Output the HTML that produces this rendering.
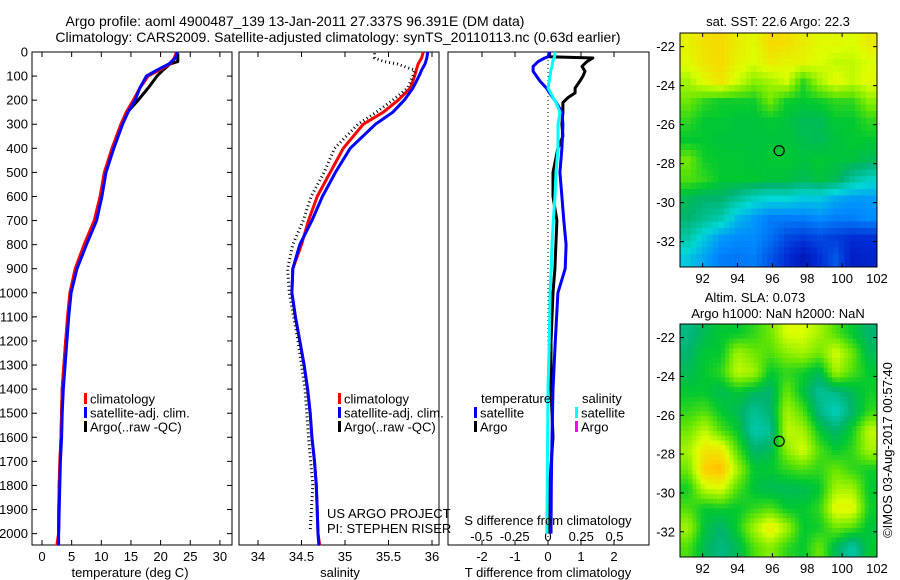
<!DOCTYPE html>
<html><head><meta charset="utf-8"><style>
html,body{margin:0;padding:0;background:#fff;}
svg{display:block;font-family:"Liberation Sans",sans-serif;}
text{fill:#000;}
</style></head><body>
<svg id="fig" width="900" height="580" viewBox="0 0 900 580" xmlns="http://www.w3.org/2000/svg">
<text x="295" y="26" font-size="14" text-anchor="middle">Argo profile: aoml 4900487_139 13-Jan-2011 27.337S 96.391E (DM data)</text>
<text x="338" y="42" font-size="14" text-anchor="middle">Climatology: CARS2009. Satellite-adjusted climatology: synTS_20110113.nc (0.63d earlier)</text>
<g id="layer"></g>
</svg>
<script>
// ---- shared depth levels ----
const depths = [0,25,50,75,100,150,200,250,300,400,500,600,700,800,900,1000,1100,1200,1300,1400,1500,1600,1700,1800,1900,2000,2050];
// temperature (deg C)
const tempClim = [22.7,22.3,21.6,19.8,17.9,16.5,15.4,14.2,13.3,11.8,10.5,9.8,8.8,7.1,5.6,4.7,4.3,4.0,3.7,3.4,3.3,3.2,3.0,2.9,2.8,2.8,2.5];
const tempSat  = [22.8,22.5,21.4,19.4,17.6,16.5,15.7,14.5,13.6,12.1,10.8,10.1,9.2,7.5,5.9,4.9,4.5,4.2,3.9,3.6,3.4,3.3,3.1,3.0,2.9,2.8,2.8];
const argoDepths = [5,25,40,50,75,100,150,200,250,300,400,500,600,700,800,900,1000,1200,1400,1600,1800,1990];
const tempArgo = [22.9,22.9,22.9,21.6,20.4,19.4,17.9,16.2,14.4,13.4,11.9,10.6,9.9,8.9,7.2,5.7,4.8,4.0,3.4,3.2,2.9,2.8];
// salinity
const salClim = [35.90,35.88,35.84,35.82,35.80,35.75,35.61,35.44,35.21,34.98,34.83,34.68,34.58,34.50,34.40,34.39,34.43,34.48,34.53,34.57,34.60,34.62,34.65,34.67,34.68,34.69,34.71];
const salSat  = [35.95,35.94,35.92,35.88,35.85,35.78,35.68,35.55,35.35,35.06,34.89,34.74,34.62,34.48,34.40,34.39,34.43,34.48,34.53,34.57,34.60,34.62,34.65,34.67,34.68,34.69,34.70];
const salArgo = [35.34,35.34,35.45,35.60,35.80,35.78,35.72,35.55,35.36,35.15,34.88,34.76,34.61,34.52,34.40,34.34,34.36,34.46,34.54,34.58,34.63,34.60];
// differences
const diffDepths = [0,20,25,40,60,80,100,120,150,170,190,210,250,300,350,400,500,600,700,800,900,1000,1200,1400,1600,1800,2000];
const dTsat  = [0.05,0.0,-0.1,-0.3,-0.45,-0.45,-0.35,-0.25,-0.05,0.05,0.15,0.25,0.42,0.45,0.44,0.42,0.36,0.42,0.48,0.55,0.52,0.3,0.22,0.15,0.12,0.1,0.09];
const dTargo = [0.05,0.05,1.36,1.18,1.03,1.12,1.06,0.97,0.82,0.82,0.6,0.45,0.45,0.42,0.45,0.3,0.15,0.15,0.27,0.24,0.21,0.15,0.09,0.09,0.15,0.05,0.03];
const dSsat  = [0.053,0.05,0.045,0.035,0.03,0.02,0.015,0.01,0.0,0.02,0.04,0.06,0.09,0.075,0.075,0.075,0.06,0.053,0.04,0.03,0.025,0.015,0.01,0.0,-0.003,-0.005,-0.008];
const tempTicks = [0,5,10,15,20,25,30];
const salTicks = [34,34.5,35,35.5,36];
const salTickLabels = ["34","34.5","35","35.5","36"];
const tdTicks = [-2,-1,0,1,2];
const sdTicks = [-0.5,-0.25,0,0.25,0.5];
const sdTickLabels = ["-0.5","-0.25","0","0.25","0.5"];
const depthTicks = [0,100,200,300,400,500,600,700,800,900,1000,1100,1200,1300,1400,1500,1600,1700,1800,1900,2000];
const lonTicks = [92,94,96,98,100,102];
const latTicks = [-22,-24,-26,-28,-30,-32];
const argoLon = [96.39];
const argoLat = [-27.337];
// map grids (colour index 0..1), rows north->south (1 deg), 12 columns 90.7..102
const sstGrid = [
[0.72,0.75,0.76,0.73,0.71,0.76,0.75,0.73,0.71,0.71,0.70,0.73],
[0.71,0.74,0.76,0.72,0.70,0.73,0.72,0.72,0.70,0.68,0.68,0.70],
[0.66,0.71,0.74,0.69,0.64,0.66,0.69,0.58,0.66,0.71,0.68,0.71],
[0.62,0.58,0.56,0.56,0.56,0.62,0.56,0.55,0.56,0.58,0.58,0.64],
[0.58,0.55,0.55,0.54,0.54,0.55,0.54,0.52,0.52,0.55,0.55,0.58],
[0.55,0.55,0.54,0.54,0.54,0.54,0.54,0.53,0.52,0.54,0.55,0.55],
[0.62,0.56,0.55,0.55,0.54,0.55,0.55,0.54,0.55,0.54,0.54,0.52],
[0.60,0.58,0.55,0.55,0.55,0.54,0.54,0.52,0.54,0.52,0.46,0.42],
[0.52,0.50,0.50,0.46,0.42,0.40,0.40,0.38,0.38,0.34,0.32,0.32],
[0.50,0.47,0.44,0.36,0.32,0.28,0.28,0.28,0.30,0.28,0.28,0.30],
[0.45,0.38,0.32,0.30,0.30,0.26,0.20,0.18,0.20,0.18,0.16,0.16],
[0.38,0.33,0.28,0.27,0.28,0.22,0.16,0.10,0.16,0.22,0.12,0.14]];
const slaGrid = [
[0.48,0.52,0.55,0.55,0.58,0.62,0.70,0.70,0.66,0.60,0.55,0.50],
[0.50,0.55,0.55,0.66,0.62,0.60,0.64,0.66,0.62,0.70,0.62,0.52],
[0.52,0.55,0.58,0.68,0.66,0.55,0.58,0.56,0.52,0.66,0.60,0.55],
[0.55,0.55,0.52,0.55,0.52,0.50,0.62,0.54,0.46,0.48,0.52,0.56],
[0.58,0.60,0.55,0.52,0.46,0.50,0.66,0.60,0.48,0.42,0.50,0.58],
[0.62,0.68,0.60,0.55,0.44,0.46,0.68,0.66,0.55,0.50,0.56,0.68],
[0.66,0.74,0.74,0.60,0.50,0.52,0.64,0.70,0.60,0.55,0.58,0.66],
[0.62,0.78,0.80,0.66,0.55,0.55,0.58,0.60,0.58,0.62,0.58,0.56],
[0.56,0.68,0.70,0.60,0.54,0.52,0.52,0.52,0.55,0.66,0.66,0.55],
[0.60,0.55,0.56,0.55,0.58,0.60,0.55,0.55,0.58,0.72,0.72,0.56],
[0.66,0.54,0.50,0.56,0.66,0.74,0.66,0.55,0.56,0.62,0.60,0.54],
[0.60,0.52,0.48,0.52,0.60,0.64,0.58,0.55,0.62,0.52,0.44,0.55]];

const NS="http://www.w3.org/2000/svg";
const layer=document.getElementById('layer');
function mk(tag,attrs,parent){const e=document.createElementNS(NS,tag);for(const k in attrs)e.setAttribute(k,attrs[k]);(parent||layer).appendChild(e);return e;}
function txt(s,x,y,size,anchor,parent){const t=mk('text',{x:x,y:y,'font-size':size,'text-anchor':anchor||'middle'},parent);t.textContent=s;return t;}

const PTOP=52, PBOT=545;
const yD = d => 52 + d*0.2408;
const xT = t => 42 + t*5.93;
const xS = s => 258 + (s-34)*87;
const xDT = v => 548 + v*33;
const xDS = v => 548 + v*133;

function panel(x0,x1,name){
  const r=mk('rect',{x:x0,y:PTOP,width:x1-x0,height:PBOT-PTOP,fill:'none',stroke:'#000','stroke-width':1});
  
  
}
panel(32,232,'temperature-panel');
panel(239,439,'salinity-panel');
panel(448,649,'difference-panel');

depthTicks.forEach(d=>{
  const y=yD(d);
  mk('line',{x1:32,x2:37,y1:y,y2:y,stroke:'#000'});
  mk('line',{x1:227,x2:232,y1:y,y2:y,stroke:'#000'});
  const t=txt(String(d),28,y+4.5,13,'end');
  
  
});
function xticks(vals,labels,fx,ly,name){
  vals.forEach((v,i)=>{
    const x=fx(v);
    mk('line',{x1:x,x2:x,y1:PTOP,y2:PTOP+5,stroke:'#000'});
    mk('line',{x1:x,x2:x,y1:PBOT-5,y2:PBOT,stroke:'#000'});
    const t=txt(labels[i],x,ly,13,'middle');
    
    
  });
}
xticks(tempTicks,tempTicks.map(String),xT,561,'temperature-tick-label');
xticks(salTicks,salTickLabels,xS,561,'salinity-tick-label');
xticks(tdTicks,tdTicks.map(String),xDT,561,'t-diff-tick-label');
sdTicks.forEach((v,i)=>{const t=txt(sdTickLabels[i],xDS(v),541,13,'middle');
  
  });

function line(xs,ds,fx,color,w,name,dash){
  const pts=xs.map((v,i)=>fx(v).toFixed(1)+','+yD(ds[i]).toFixed(1)).join(' ');
  const p=mk('polyline',{points:pts,fill:'none',stroke:color,'stroke-width':w,'stroke-linejoin':'round'});
  if(dash)p.setAttribute('stroke-dasharray',dash);
  
  
}
line(tempArgo,argoDepths,xT,'#000',3,'temp-argo-line');
line(tempClim,depths,xT,'#f00',3,'temp-clim-line');
line(tempSat,depths,xT,'#00f',3,'temp-sat-line');
line(salClim,depths,xS,'#f00',3,'sal-clim-line');
line(salSat,depths,xS,'#00f',3,'sal-sat-line');
line(salArgo,argoDepths,xS,'#000',3,'sal-argo-line','1 3');
mk('line',{x1:548,x2:548,y1:PTOP,y2:PBOT,stroke:'#000','stroke-dasharray':'1 3'});
line(dTargo,diffDepths,xDT,'#000',3,'tdiff-argo-line');
line(dTsat,diffDepths,xDT,'#00f',3,'tdiff-sat-line');
line(dSsat,diffDepths,xDS,'#0ff',3,'sdiff-sat-line');

function leg(x,y,color,label,name){
  mk('rect',{x:x,y:y-6,width:3,height:11,fill:color});
  const t=txt(label,x+6,y+4.5,13,'start');
  
  
}
leg(84,399,'#f00','climatology','legend-climatology');
leg(84,413,'#00f','satellite-adj. clim.','legend-satellite-adj');
leg(84,427,'#000','Argo(..raw -QC)','legend-argo');
leg(338,399,'#f00','climatology','legend-sal-climatology');
leg(338,413,'#00f','satellite-adj. clim.','legend-sal-satellite-adj');
leg(338,427,'#000','Argo(..raw -QC)','legend-sal-argo');
txt('temperature',481,403,13,'start');
txt('salinity',582,403,13,'start');
leg(474,413,'#00f','satellite','legend-t-satellite');
leg(474,427,'#000','Argo','legend-t-argo');
leg(575,413,'#0ff','satellite','legend-s-satellite');
leg(575,427,'#f0f','Argo','legend-s-argo');
txt('US ARGO PROJECT',327,518,13,'start');
txt('PI: STEPHEN RISER',327,533,13,'start');
txt('S difference from climatology',548,525,13,'middle');
txt('temperature (deg C)',130,577,13,'middle');
txt('salinity',340,577,13,'middle');
txt('T difference from climatology',548,577,13,'middle');

const stops=[[0,[0,0,140]],[0.15,[0,40,210]],[0.3,[0,140,255]],[0.4,[0,215,215]],[0.5,[0,180,110]],[0.55,[0,200,50]],[0.62,[110,232,0]],[0.7,[220,255,0]],[0.78,[255,205,0]],[0.86,[255,130,0]],[1,[200,0,0]]];
function cmap(v){for(let i=1;i<stops.length;i++){if(v<=stops[i][0]){const a=stops[i-1],b=stops[i];const f=(v-a[0])/(b[0]-a[0]);return 'rgb('+a[1].map((c,k)=>Math.round(c+(b[1][k]-c)*f)).join(',')+')';}}return 'rgb(200,0,0)';}
function sample(grid,r,c){
  const R=grid.length,C=grid[0].length;
  r=Math.max(0,Math.min(R-1,r));c=Math.max(0,Math.min(C-1,c));
  const r0=Math.floor(r),c0=Math.floor(c),r1=Math.min(R-1,r0+1),c1=Math.min(C-1,c0+1);
  const fr=r-r0,fc=c-c0;
  return grid[r0][c0]*(1-fr)*(1-fc)+grid[r0][c1]*(1-fr)*fc+grid[r1][c0]*fr*(1-fc)+grid[r1][c1]*fr*fc;
}

function map(grid,top,bot,name,sub){
  const x0=680,x1=877;
  const lonX = lon => 680 + (lon-90.7)*17.43;
  const latY = lat => top + (-21.3-lat)*(bot-top)/12;
  const g=mk('g',{});
  
  
  const rows=grid.length, cols=grid[0].length;
  const NR=rows*sub, NC=cols*sub;
  const cw=(x1-x0)/NC, ch=(bot-top)/NR;
  for(let r=0;r<NR;r++)for(let c=0;c<NC;c++){
    const v=sample(grid,(r+0.5)/sub-0.5,(c+0.5)/sub-0.5);
    const cell=mk('rect',{x:(x0+c*cw).toFixed(2),y:(top+r*ch).toFixed(2),width:(cw+0.5).toFixed(2),height:(ch+0.5).toFixed(2),fill:cmap(v)},g);
    
    
  }
  mk('rect',{x:x0,y:top,width:x1-x0,height:bot-top,fill:'none',stroke:'#000'},g);
  lonTicks.forEach(l=>{const x=lonX(l);mk('line',{x1:x,x2:x,y1:bot-4,y2:bot,stroke:'#000'},g);mk('line',{x1:x,x2:x,y1:top,y2:top+4,stroke:'#000'},g);
    const t=txt(String(l),x,bot+16,13,'middle',g);
    
    });
  latTicks.forEach(l=>{const y=latY(l);mk('line',{x1:x0,x2:x0+4,y1:y,y2:y,stroke:'#000'},g);mk('line',{x1:x1-4,x2:x1,y1:y,y2:y,stroke:'#000'},g);
    const t=txt(String(l),675,y+4.5,13,'end',g);
    
    });
  const c=mk('circle',{cx:lonX(argoLon[0]),cy:latY(argoLat[0]),r:5,fill:'none',stroke:'#000','stroke-width':1.2},g);
  
  
}
map(sstGrid,33,267,'sst-map',3);
map(slaGrid,324,557,'sla-map',4);
txt('sat. SST: 22.6 Argo: 22.3',778,26,13,'middle');
txt('Altim. SLA: 0.073',755,302,13,'middle');
txt('Argo h1000: NaN h2000: NaN',778,318,13,'middle');
const im=txt('©IMOS 03-Aug-2017 00:57:40',0,0,13,'middle');
im.setAttribute('transform','translate(892,450) rotate(-90)');


</script>
</body></html>
